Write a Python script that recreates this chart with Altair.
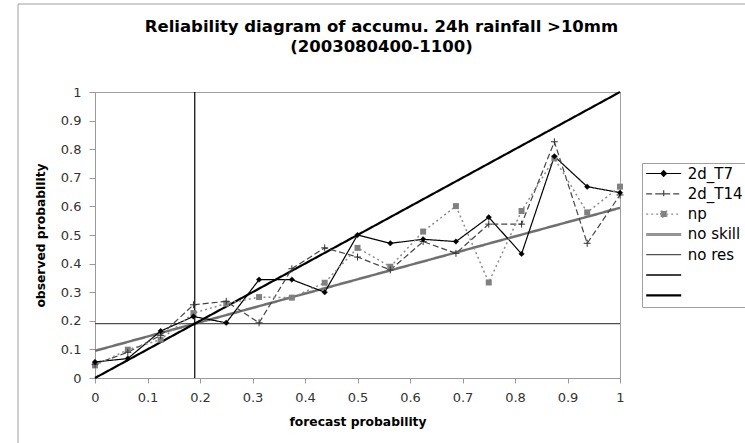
import altair as alt
import pandas as pd

# ---- data ----
forecast = [0, 0.0625, 0.125, 0.1875, 0.25, 0.3125, 0.375, 0.4375, 0.5,
            0.5625, 0.625, 0.6875, 0.75, 0.8125, 0.875, 0.9375, 1.0]
t7 = [0.056, 0.068, 0.164, 0.215, 0.193, 0.344, 0.344, 0.300, 0.500,
      0.471, 0.485, 0.477, 0.562, 0.434, 0.775, 0.669, 0.648]
t14 = [0.048, 0.090, 0.149, 0.256, 0.268, 0.193, 0.382, 0.455, 0.423,
       0.378, 0.477, 0.436, 0.538, 0.538, 0.826, 0.471, 0.640]
npv = [0.044, 0.099, 0.134, 0.227, 0.260, 0.283, 0.281, 0.333, 0.455,
       0.389, 0.512, 0.601, 0.334, 0.584, 0.768, 0.579, 0.669]

series_names = ["2d_T7", "2d_T14", "np"]
series_values = [t7, t14, npv]

ref_names = ["no skill", "no res", " ", "  "]
ref_x = [[0, 1], [0, 1], [0.19, 0.19], [0, 1]]
ref_y = [[0.095, 0.595], [0.19, 0.19], [0, 1], [0, 1]]

legend_names = ["2d_T7", "2d_T14", "np", "no skill", "no res", " ", "  "]
line_colors = ["#000000", "#444444", "#8c8c8c", "#707070", "#505050", "#000000", "#000000"]
line_dashes = [[1, 0], [6, 3], [2, 3], [1, 0], [1, 0], [1, 0], [1, 0]]
line_widths = {"2d_T7": 1.2, "2d_T14": 1.2, "np": 1.5, "no skill": 2.5,
               "no res": 1.2, " ": 1.2, "  ": 2.2}
# legend glyphs: line segment (+ marker), thick entries drawn as a doubled stroke
legend_glyphs = [
    "M-4.375,0H4.375M0,-0.7L0.7,0L0,0.7L-0.7,0Z",
    "M-4.375,0H4.375M-0.875,0H0.875M0,-0.875V0.875",
    "M-4.375,0H4.375M-0.75,-0.75H0.75V0.75H-0.75Z",
    "M-4.375,-0.16H4.375M-4.375,0.16H4.375",
    "M-4.375,0H4.375",
    "M-4.375,-0.03H4.375M-4.375,0.03H4.375",
    "M-4.375,-0.125H4.375M-4.375,0.125H4.375",
]
legend_fills = ["#000000", "transparent", "#808080", "transparent",
                "transparent", "transparent", "transparent"]

x_ticks = [0, 0.1, 0.2, 0.3, 0.4, 0.5, 0.6, 0.7, 0.8, 0.9, 1]
y_ticks = [0, 0.1, 0.2, 0.3, 0.4, 0.5, 0.6, 0.7, 0.8, 0.9, 1]

title_lines = ["Reliability diagram of accumu. 24h rainfall >10mm", "(2003080400-1100)"]

# ---- tables ----
rows = []
for name, vals in zip(series_names, series_values):
    for i, (fx, v) in enumerate(zip(forecast, vals)):
        rows.append({"series": name, "x": fx, "y": v, "idx": i, "sw": line_widths[name]})
series_df = pd.DataFrame(rows)

rrows = []
for name, xs, ys in zip(ref_names, ref_x, ref_y):
    for i, (fx, v) in enumerate(zip(xs, ys)):
        rrows.append({"series": name, "x": fx, "y": v, "idx": i, "sw": line_widths[name]})
ref_df = pd.DataFrame(rrows)

FONT = "DejaVu Sans"

xscale = alt.Scale(domain=[0, 1], nice=False, zero=False)
yscale = alt.Scale(domain=[0, 1], nice=False, zero=False)

xaxis = alt.Axis(values=x_ticks, format="~g", grid=False, tickSize=5, labelPadding=8,
                 titlePadding=11, title="forecast probability", labelFlush=False)
yaxis = alt.Axis(values=y_ticks, format="~g", grid=False, tickSize=6, labelPadding=8,
                 titlePadding=13, title="observed probability", labelFlush=False)

legend_cfg = alt.Legend(title=None, orient="none", legendX=547, legendY=71,
                        symbolSize=64, symbolStrokeWidth=1.2, padding=3,
                        rowPadding=4.3, symbolOffset=11.2, labelOffset=16.5,
                        labelFontSize=15, labelFont=FONT, labelColor="#000000",
                        strokeColor="#a0a0a0", fillColor="#ffffff")

X = alt.X("x:Q", scale=xscale, axis=xaxis)
Y = alt.Y("y:Q", scale=yscale, axis=yaxis)

line_enc = dict(
    x=X, y=Y,
    color=alt.Color("series:N", scale=alt.Scale(domain=legend_names, range=line_colors),
                    legend=legend_cfg),
    strokeDash=alt.StrokeDash("series:N", scale=alt.Scale(domain=legend_names, range=line_dashes),
                              legend=legend_cfg),
    strokeWidth=alt.StrokeWidth("sw:Q", scale=None, legend=None),
    order=alt.Order("idx:Q"),
)

frame = alt.Chart(alt.Data(values=[{}])).mark_rect(
    fill="transparent", stroke="#a0a0a0", strokeWidth=1
).encode(x=alt.value(-77), x2=alt.value(700), y=alt.value(-88), y2=alt.value(400))

ref_lines = alt.Chart(ref_df).mark_line().encode(**line_enc)
series_lines = alt.Chart(series_df).mark_line().encode(**line_enc)

# legend-only layer (no marks drawn): supplies glyphs + fills for the merged legend
legend_layer = alt.Chart(ref_df).transform_filter("false").mark_point(opacity=1).encode(
    x=X, y=Y,
    shape=alt.Shape("series:N", scale=alt.Scale(domain=legend_names, range=legend_glyphs),
                    legend=legend_cfg),
    fill=alt.Fill("series:N", scale=alt.Scale(domain=legend_names, range=legend_fills),
                  legend=legend_cfg),
)

pts_t7 = alt.Chart(series_df).transform_filter(alt.datum.series == "2d_T7").mark_point(
    shape="diamond", filled=True, fill="#000000", stroke="#000000", strokeWidth=0.5,
    size=30, opacity=1).encode(x=X, y=Y)
pts_t14 = alt.Chart(series_df).transform_filter(alt.datum.series == "2d_T14").mark_point(
    shape="M-1,0H1M0,-1V1", filled=False, stroke="#333333", strokeWidth=1,
    size=49, opacity=1).encode(x=X, y=Y)
pts_np = alt.Chart(series_df).transform_filter(alt.datum.series == "np").mark_point(
    shape="square", filled=True, fill="#808080", size=36, opacity=1).encode(x=X, y=Y)

chart = alt.layer(frame, ref_lines, series_lines, legend_layer, pts_np, pts_t14, pts_t7).properties(
    width=525,
    height=286,
    padding={"left": 95, "top": 92, "right": 125, "bottom": 65},
    autosize=alt.AutoSizeParams(type="none"),
    background="#ffffff",
    title=alt.TitleParams(text=title_lines, fontSize=16.5, fontWeight="bold", font=FONT,
                          anchor="middle", dx=24, dy=52, offset=0, lineHeight=20,
                          color="#000000"),
).configure_view(
    stroke="#a0a0a0", strokeWidth=1
).configure_axis(
    labelFont=FONT, titleFont=FONT, labelFontSize=13, titleFontSize=12.3,
    titleFontWeight="bold", labelColor="#333333", titleColor="#000000",
    domainColor="#9a9a9a", tickColor="#9a9a9a"
)

chart.save("out.html", embed_options={"renderer": "svg", "actions": False})
